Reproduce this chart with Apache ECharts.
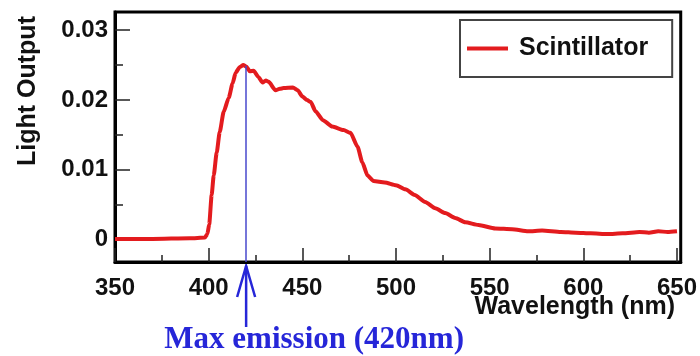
<!DOCTYPE html>
<html>
<head>
<meta charset="utf-8">
<script src="https://cdn.jsdelivr.net/npm/echarts@6/dist/echarts.min.js"></script>
<style>
  html, body { margin: 0; padding: 0; background: #fff; }
  #chart { width: 700px; height: 356px; }
</style>
</head>
<body>
<div id="chart"></div>
<script>
// emission spectrum, values
const wavelength = [350, 370, 390, 398, 399.3, 400.3, 401.6, 402.7, 404.3, 405.9, 408, 410.7, 412.8, 414.4, 416.5, 418.5,
  420, 422, 424, 426.5, 428.8, 430.5, 432, 435.7, 438, 440, 445, 447.5, 450, 452.5, 454.5, 457, 461, 466, 472, 475.7,
  479.5, 482, 484.8, 488, 494, 500, 505, 510, 515.6, 521, 526.3, 531.6, 537, 544, 553, 562, 570.5, 578, 588, 596,
  604, 613, 621, 630, 635, 640, 645, 650];
const lightOutput = [0.0001, 0.0001, 0.0002, 0.0003, 0.0008, 0.0022, 0.0064, 0.0092, 0.0125, 0.0154, 0.0183, 0.0203, 0.0224, 0.0239, 0.0247, 0.0250,
  0.0248, 0.0241, 0.0242, 0.0233, 0.0225, 0.0228, 0.0226, 0.0214, 0.0216, 0.0217, 0.0218, 0.0214, 0.0205, 0.0200, 0.0197, 0.0184, 0.0171, 0.0162, 0.0157, 0.0153,
  0.0133, 0.0111, 0.0092, 0.0084, 0.0082, 0.0078, 0.0072, 0.0064, 0.0054, 0.0045, 0.0038, 0.0031, 0.0025, 0.0021, 0.0016, 0.0015, 0.0012, 0.0013, 0.0011, 0.0010,
  0.0009, 0.0008, 0.0009, 0.0011, 0.0010, 0.0012, 0.0011, 0.0012];

const xTicks = [350, 400, 450, 500, 550, 600, 650];
const xMinorTicks = [375, 425, 475, 525, 575, 625];
const yTicks = [0, 0.01, 0.02, 0.03];
const yMinorTicks = [0.005, 0.015, 0.025];

const peakWavelength = 420;
const peakValue = 0.0249;

const xMin = 350, xMax = 652;
const yMin = -0.0032, yMax = 0.0326;

const sans = "'Liberation Sans', Arial, sans-serif";
const red = '#e31b1e';
const blue = '#2626d8';

const chart = echarts.init(document.getElementById('chart'));

const tickStyle = { color: '#222', width: 1.5 };

const option = {
  animation: false,
  grid: { left: 115, right: 19, top: 12, bottom: 94, show: true, borderColor: '#000', borderWidth: 3 },
  legend: {
    data: ['Scintillator'],
    left: 460, top: 20,
    padding: [16, 24, 16, 7],
    icon: 'rect', itemWidth: 41, itemHeight: 4,
    borderColor: '#444', borderWidth: 2, backgroundColor: '#fff',
    textStyle: { fontSize: 25, fontWeight: 'bold', color: '#111', fontFamily: sans, padding: [0, 0, 0, 6] }
  },
  xAxis: [
    {
      type: 'value', min: xMin, max: xMax, position: 'bottom',
      splitLine: { show: false },
      axisLine: { onZero: false, lineStyle: { color: '#000', width: 3 } },
      axisTick: { inside: true, length: 14, customValues: xTicks, lineStyle: tickStyle },
      axisLabel: { customValues: xTicks, fontSize: 24, fontWeight: 'bold', color: '#111', fontFamily: sans, margin: 14 }
    },
    {
      type: 'value', min: xMin, max: xMax, position: 'bottom',
      splitLine: { show: false },
      axisLine: { show: false, onZero: false },
      axisTick: { inside: true, length: 7, customValues: xMinorTicks, lineStyle: tickStyle },
      axisLabel: { show: false }
    }
  ],
  yAxis: [
    {
      type: 'value', min: yMin, max: yMax, position: 'left',
      splitLine: { show: false },
      axisLine: { onZero: false, lineStyle: { color: '#000', width: 3 } },
      axisTick: { inside: true, length: 15, customValues: yTicks, lineStyle: tickStyle },
      axisLabel: {
        customValues: yTicks, fontSize: 24, fontWeight: 'bold', color: '#111', fontFamily: sans, margin: 7,
        formatter: v => (v === 0 ? '0' : v.toFixed(2))
      }
    },
    {
      type: 'value', min: yMin, max: yMax, position: 'left',
      splitLine: { show: false },
      axisLine: { show: false, onZero: false },
      axisTick: { inside: true, length: 8, customValues: yMinorTicks, lineStyle: tickStyle },
      axisLabel: { show: false }
    }
  ],
  series: [
    {
      name: 'Scintillator',
      type: 'line',
      xAxisIndex: 0, yAxisIndex: 0,
      data: wavelength.map((w, i) => [w, lightOutput[i]]),
      showSymbol: false,
      smooth: 0.2,
      smoothMonotone: 'x',
      lineStyle: { color: red, width: 4 },
      itemStyle: { color: red },
      markLine: {
        silent: true, symbol: 'none',
        label: { show: false },
        lineStyle: { color: '#4848cc', width: 1.5, type: 'solid' },
        data: [[{ coord: [peakWavelength, peakValue] }, { coord: [peakWavelength, yMin] }]]
      }
    }
  ]
};

chart.setOption(option);

// annotation arrow below the axis, placed from the axis scale
const ax = chart.convertToPixel({ xAxisIndex: 0 }, peakWavelength);
const axisY = chart.convertToPixel({ yAxisIndex: 0 }, yMin);

chart.setOption({
  graphic: [
    {
      type: 'text', x: 28, y: 91, rotation: Math.PI / 2,
      style: { text: 'Light Output', fontSize: 25, fontWeight: 'bold', fontFamily: sans, fill: '#111', align: 'center', verticalAlign: 'middle' }
    },
    {
      type: 'text', x: 675, y: 307,
      style: { text: 'Wavelength (nm)', fontSize: 25, fontWeight: 'bold', fontFamily: sans, fill: '#111', align: 'right', verticalAlign: 'middle' }
    },
    {
      type: 'line',
      shape: { x1: ax, y1: axisY + 4, x2: ax, y2: axisY + 65 },
      style: { stroke: blue, lineWidth: 2.5 }
    },
    {
      type: 'polyline',
      shape: { points: [[ax - 9, axisY + 35], [ax, axisY + 4], [ax + 9, axisY + 35]] },
      style: { stroke: blue, lineWidth: 2.5, fill: null }
    },
    {
      type: 'text', x: ax + 68, y: 340,
      style: { text: 'Max emission (420nm)', fontSize: 31, fontWeight: 'bold', fontFamily: "'Liberation Serif', 'Times New Roman', serif", fill: blue, align: 'center', verticalAlign: 'middle' }
    }
  ]
});
</script>
</body>
</html>
